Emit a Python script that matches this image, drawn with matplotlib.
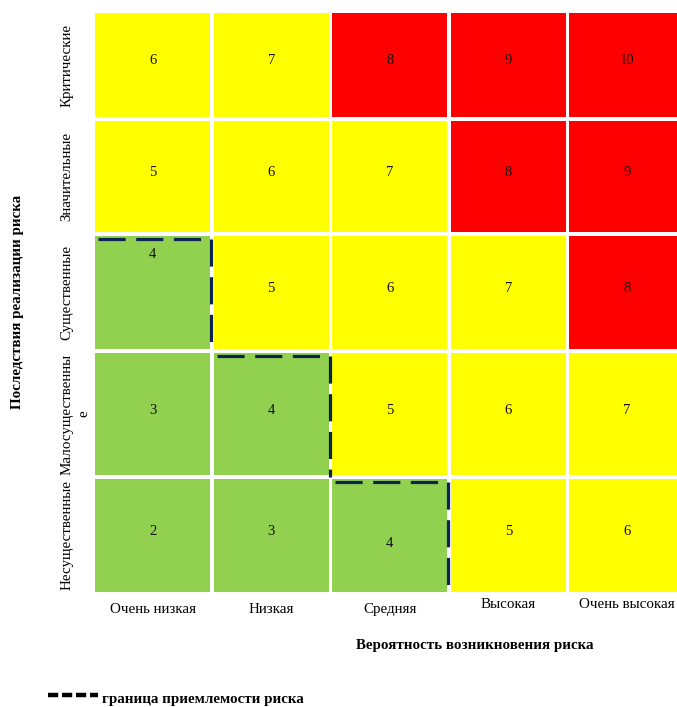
import numpy as np
import matplotlib
matplotlib.use('Agg')
from matplotlib import pyplot as plt
from matplotlib.patches import Rectangle
from matplotlib.lines import Line2D

# likelihood (columns) and impact (rows, bottom -> top)
probability = ['Очень низкая', 'Низкая', 'Средняя', 'Высокая', 'Очень высокая']
impact = ['Несущественные', 'Малосущественны\nе', 'Существенные', 'Значительные', 'Критические']
# risk score, rows bottom -> top
scores = np.array([
    [2, 3, 4, 5, 6],
    [3, 4, 5, 6, 7],
    [4, 5, 6, 7, 8],
    [5, 6, 7, 8, 9],
    [6, 7, 8, 9, 10],
])
# green up to 4, yellow 5..7, red 8+
levels = [4, 7]
level_colors = ['#92D050', '#FFFF00', '#FF0000']
# cells that sit on the acceptance border (row, col)
border_cells = [(2, 0), (1, 1), (0, 2)]

plt.rcParams['font.family'] = ['Liberation Serif', 'DejaVu Serif']

W, H = 677, 707
fig = plt.figure(figsize=(W / 100, H / 100), dpi=100)

# table rows are not all the same height (px, bottom -> top)
row_h = np.array([117, 126, 117, 115, 108])
row_y = np.concatenate([[0], np.cumsum(row_h)])
ax = fig.add_axes([93.5 / W, 1 - 594 / H, 592.5 / W, row_y[-1] / H])
ax.set_xlim(0, 5)
ax.set_ylim(0, row_y[-1])
ax.axis('off')

gx, gy = 0.03, 4
# text nudges for a couple of cells, like in the source table
nudge = {(2, 0): 34, (0, 2): -12}
nrows, ncols = scores.shape
for r in range(nrows):
    y0, y1 = row_y[r], row_y[r + 1]
    for c in range(ncols):
        v = scores[r, c]
        col = level_colors[np.searchsorted(levels, v)]
        ax.add_patch(Rectangle((c + gx / 2, y0 + gy / 2), 1 - gx, y1 - y0 - gy, facecolor=col, edgecolor='none'))
        ax.text(c + 0.5, (y0 + y1) / 2 + 4 + nudge.get((r, c), 0), str(v), ha='center', va='center',
                fontsize=10.5, color='#111111')

# acceptance border, dashed
for r, c in border_cells:
    top = row_y[r + 1] - gy / 2 - 3
    right = c + 1 - 0.005
    ax.plot([c + 0.04, right], [top, top], color='#0d2452', lw=2.3, dashes=(8.5, 3.3), solid_capstyle='butt')
    ax.plot([right, right], [top, row_y[r]], color='#0d2452', lw=2.3, dashes=(8.5, 3.3), solid_capstyle='butt')

# x labels
x_dy = [0, 0, 0, 4, 4]
for i, lab in enumerate(probability):
    ax.annotate(lab, xy=(i + 0.5, 0), xycoords=('data', 'axes fraction'),
                xytext=(0, -11.5 + x_dy[i]), textcoords='offset points',
                ha='center', va='center', fontsize=10.8)

# y labels, rotated
for j, lab in enumerate(impact):
    ax.annotate(lab, xy=(0, (row_y[j] + row_y[j + 1]) / 2), xycoords=('axes fraction', 'data'),
                xytext=(-24, 0), textcoords='offset points', rotation=90,
                ha='left', va='center', fontsize=10.8, multialignment='center', linespacing=1.45)

fig.text(475 / W, 1 - 645 / H, 'Вероятность возникновения риска', ha='center', va='center',
         fontsize=10.8, fontweight='bold')
fig.text(18 / W, 1 - 302 / H, 'Последствия реализации риска', ha='center', va='center',
         rotation=90, fontsize=10.8, fontweight='bold')

# legend
fig.add_artist(Line2D([48 / W, 98 / W], [1 - 695 / H, 1 - 695 / H], transform=fig.transFigure,
                      color='black', lw=3.2, dashes=(2.3, 0.85)))
fig.text(102 / W, 1 - 700 / H, 'граница приемлемости риска', ha='left', va='center',
         fontsize=10.8, fontweight='bold')

fig.savefig('out.png', dpi=100)
